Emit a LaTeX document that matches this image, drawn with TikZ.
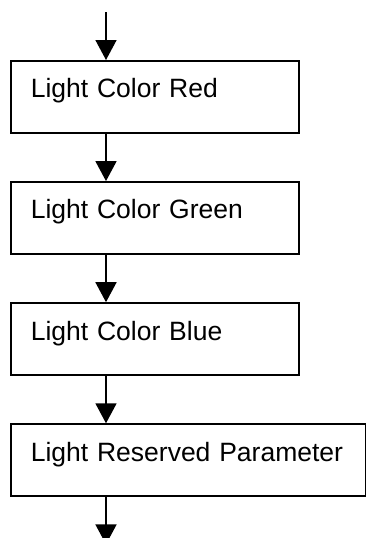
\documentclass[tikz,border=0pt]{standalone}
\usepackage{fontspec}
\setmainfont{Liberation Sans}
\usepackage{tikz}
\usetikzlibrary{positioning,arrows.meta}

\begin{document}
\begin{tikzpicture}[x=1pt,y=1pt,
    stepbox/.style={draw, line width=1.6pt, minimum width=288pt, text width=248pt,
        align=left, inner xsep=20pt, inner ysep=0pt, text height=37pt, text depth=35pt,
        font=\fontsize{26.5}{30}\selectfont},
    flow/.style={line width=1.6pt, -{Triangle[width=21pt,length=20pt]}}]
    \useasboundingbox (0,0) rectangle (366,-538);
    \coordinate (in) at (106,-12);
    \node[stepbox, anchor=north west] (red) at (10,-60) {Light Color Red};
    \node[stepbox, below=47.5pt of red] (green) {Light Color Green};
    \node[stepbox, below=47.5pt of green] (blue) {Light Color Blue};
    \node[stepbox, minimum width=355pt, text width=315pt,
        below=47.5pt of blue.south west, anchor=north west] (reserved) {Light Reserved Parameter};
    \coordinate[below=47.5pt of reserved.south -| in] (out);
    % arrows between the steps
    \draw[flow] (in) -- (red.north -| in);
    \draw[flow] (red.south -| in) -- (green.north -| in);
    \draw[flow] (green.south -| in) -- (blue.north -| in);
    \draw[flow] (blue.south -| in) -- (reserved.north -| in);
    \draw[flow] (reserved.south -| in) -- (out);
\end{tikzpicture}
\end{document}
